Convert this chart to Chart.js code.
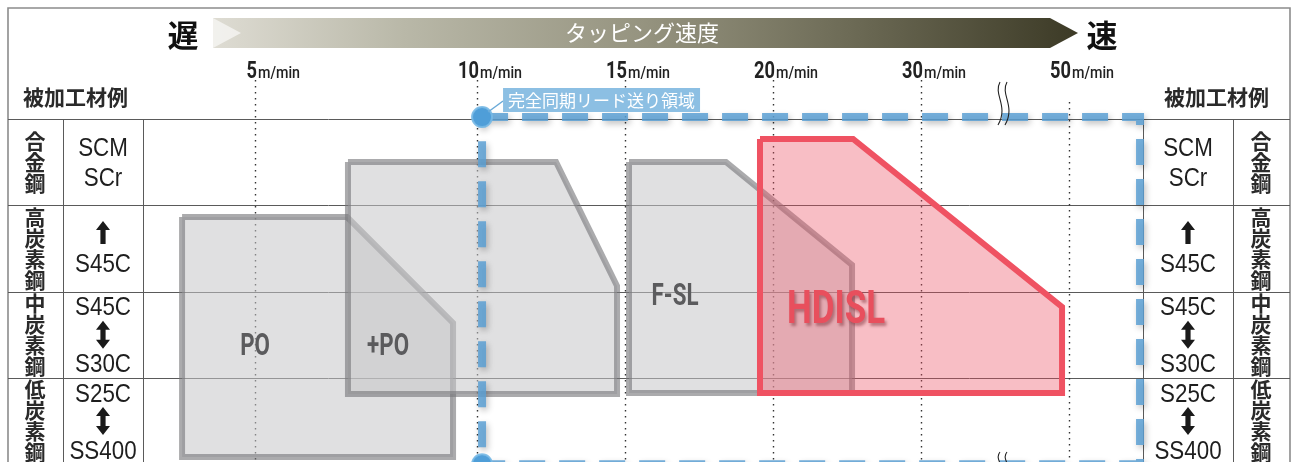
<!DOCTYPE html>
<html>
<head>
<meta charset="utf-8">
<script src="https://cdn.jsdelivr.net/npm/chart.js@4.4.1/dist/chart.umd.min.js"></script>
<style>
  html, body { margin: 0; padding: 0; background: #fff; }
  #wrap { width: 1293px; height: 462px; position: relative; }
</style>
</head>
<body>
<div id="wrap"><canvas id="chart"></canvas></div>
<script>
// ══════════════════════════════════════════
// DATA
// ══════════════════════════════════════════
// speed axis (non linear, break between 30 and 50)
const speedTicks = ["5", "10", "15", "20", "30", "50"];
const speedTickPos = [0, 1.5, 2.5, 3.5, 4.5, 5.5];

// material rows, top to bottom (y units: row i spans 4-i .. 3-i)
const materialGroups = ["合金鋼", "高炭素鋼", "中炭素鋼", "低炭素鋼"];
const materialGrades = [
  ["SCM", "SCr"],
  ["↑", "S45C"],
  ["S45C", "↕", "S30C"],
  ["S25C", "↕", "SS400"],
];

// tap application ranges (closed polygons)
const shapeNames = ["PO", "+PO", "F-SL", "HDISL"];
const poX = [-0.493, 0.622, 1.338, 1.338, -0.493, -0.493];
const poY = [2.864, 2.864, 1.636, 0.083, 0.083, 2.864];
const plusPoX = [0.628, 2.034, 2.446, 2.446, 0.628, 0.628];
const plusPoY = [3.502, 3.502, 2.065, 0.813, 0.813, 3.502];
const fslX = [2.527, 3.182, 4.034, 4.034, 2.527, 2.527];
const fslY = [3.502, 3.502, 2.308, 0.825, 0.825, 3.502];
const hdislX = [3.412, 4.041, 5.453, 5.453, 3.412, 3.412];
const hdislY = [3.768, 3.768, 1.822, 0.825, 0.825, 3.768];
const labelX = [0.0, 0.899, 2.838, 3.926];
const labelY = [1.393, 1.393, 1.972, 1.822];

// fully synchronized lead feed area
const syncLabel = "完全同期リード送り領域";
const syncX = [1.534, 5.98, 5.98, 1.534, 1.534];
const syncY = [4.023, 4.023, 0.0, 0.0, 4.023];

const pts = (xs, ys) => xs.map((x, i) => ({ x, y: ys[i] }));

// ══════════════════════════════════════════
// HELPERS
// ══════════════════════════════════════════
const CJK = '"Noto Sans CJK JP", sans-serif';

function narrowText(ctx, text, x, y, font, sx, align, color) {
  ctx.save();
  ctx.font = font;
  ctx.fillStyle = color;
  ctx.textAlign = align || "center";
  ctx.textBaseline = "alphabetic";
  ctx.translate(x, y);
  ctx.scale(sx, 1);
  ctx.fillText(text, 0, 0);
  ctx.restore();
}

function drawArrow(ctx, x, yc, double) {
  const h = double ? 28 : 23;
  const head = 9, hw = 7, sw = 2.6;
  const top = yc - h / 2, bot = yc + h / 2;
  ctx.save();
  ctx.fillStyle = "#1a1a1a";
  ctx.beginPath();
  ctx.moveTo(x, top);
  ctx.lineTo(x + hw, top + head);
  ctx.lineTo(x + sw, top + head);
  if (double) {
    ctx.lineTo(x + sw, bot - head);
    ctx.lineTo(x + hw, bot - head);
    ctx.lineTo(x, bot);
    ctx.lineTo(x - hw, bot - head);
    ctx.lineTo(x - sw, bot - head);
  } else {
    ctx.lineTo(x + sw, bot);
    ctx.lineTo(x - sw, bot);
  }
  ctx.lineTo(x - sw, top + head);
  ctx.lineTo(x - hw, top + head);
  ctx.closePath();
  ctx.fill();
  ctx.restore();
}

function drawBreak(ctx, cx, y0, y1) {
  ctx.save();
  ctx.strokeStyle = "#222";
  ctx.lineWidth = 1.1;
  [0, 7].forEach((dx) => {
    const h = y1 - y0;
    ctx.beginPath();
    ctx.moveTo(cx - 3 + dx, y0);
    ctx.bezierCurveTo(cx - 10 + dx, y0 + h * 0.3, cx + 6 + dx, y0 + h * 0.55, cx - 5 + dx, y1);
    ctx.stroke();
  });
  ctx.restore();
}

// ══════════════════════════════════════════
// PLUGIN : table, header, labels
// ══════════════════════════════════════════
const tablePlugin = {
  id: "tapTable",
  beforeDatasetsDraw(chart) {
    const { ctx, chartArea } = chart;
    const xs = chart.scales.x, ys = chart.scales.y;
    const H = chart.height;
    const L = 8, R = 1290;
    const headY = ys.getPixelForValue(4);

    // header arrow band
    ctx.save();
    const g = ctx.createLinearGradient(213, 0, 1078, 0);
    g.addColorStop(0, "#dedcd3");
    g.addColorStop(0.22, "#b9b8a8");
    g.addColorStop(0.5, "#95937f");
    g.addColorStop(0.74, "#6c6a55");
    g.addColorStop(1, "#3c3a26");
    ctx.fillStyle = g;
    ctx.beginPath();
    ctx.moveTo(213, 18);
    ctx.lineTo(1050, 18);
    ctx.lineTo(1078, 33);
    ctx.lineTo(1050, 48);
    ctx.lineTo(213, 48);
    ctx.closePath();
    ctx.fill();
    ctx.fillStyle = "rgba(255,255,255,0.6)";
    ctx.beginPath();
    ctx.moveTo(213, 18);
    ctx.lineTo(241, 33);
    ctx.lineTo(213, 48);
    ctx.closePath();
    ctx.fill();
    ctx.font = "22px " + CJK;
    ctx.fillStyle = "#fff";
    ctx.textAlign = "center";
    ctx.textBaseline = "middle";
    ctx.fillText("タッピング速度", 642, 33);
    ctx.fillStyle = "#111";
    ctx.font = "bold 31px " + CJK;
    ctx.fillText("遅", 183, 35);
    ctx.fillText("速", 1102, 35);
    ctx.restore();

    // frame
    ctx.save();
    ctx.strokeStyle = "#8c8c8c";
    ctx.lineWidth = 1.6;
    ctx.beginPath();
    ctx.moveTo(L, H + 2);
    ctx.lineTo(L, 8);
    ctx.lineTo(R, 8);
    ctx.lineTo(R, H + 2);
    ctx.stroke();

    // row lines
    ctx.strokeStyle = "#5a5a5a";
    ctx.lineWidth = 1;
    [4, 3, 2, 1].forEach((v) => {
      const y = Math.round(ys.getPixelForValue(v)) + 0.5;
      ctx.beginPath();
      ctx.moveTo(L, y);
      ctx.lineTo(R, y);
      ctx.stroke();
    });
    // column lines
    [63, chartArea.left, chartArea.right, 1233].forEach((x) => {
      const xx = Math.round(x) + 0.5;
      ctx.beginPath();
      ctx.moveTo(xx, headY);
      ctx.lineTo(xx, H);
      ctx.stroke();
    });

    // dotted speed lines
    ctx.strokeStyle = "#333";
    ctx.lineWidth = 1.4;
    ctx.setLineDash([1.6, 4.4]);
    speedTickPos.forEach((p, i) => {
      const x = Math.round(xs.getPixelForValue(p)) + 0.5;
      ctx.beginPath();
      ctx.moveTo(x, i === speedTickPos.length - 1 ? 102 : 80);
      ctx.lineTo(x, H);
      ctx.stroke();
    });
    ctx.restore();
  },

  beforeDatasetDraw(chart, args) {
    if (args.index === 4) {
      chart.ctx.save();
      chart.ctx.shadowColor = "rgba(0,0,0,0.28)";
      chart.ctx.shadowBlur = 6;
      chart.ctx.shadowOffsetX = 2;
      chart.ctx.shadowOffsetY = 3;
    }
  },
  afterDatasetDraw(chart, args) {
    if (args.index === 4) chart.ctx.restore();
  },

  afterDatasetsDraw(chart) {
    const { ctx } = chart;
    const xs = chart.scales.x, ys = chart.scales.y;

    // speed tick labels
    speedTickPos.forEach((p, i) => {
      const x = xs.getPixelForValue(p);
      narrowText(ctx, speedTicks[i], x + 2, 78, "bold 24px Roboto", 0.76, "right", "#222");
      narrowText(ctx, "m/min", x + 3, 78, "500 17px Roboto", 0.84, "left", "#222");
    });

    // break marks
    drawBreak(ctx, 1003, 82, 125);
    drawBreak(ctx, 1003, 452, 480);

    // sync area label
    const cx = xs.getPixelForValue(syncX[0]);
    const cy = ys.getPixelForValue(syncY[0]);
    ctx.save();
    ctx.strokeStyle = "#6aaad8";
    ctx.lineWidth = 1.5;
    ctx.beginPath();
    ctx.moveTo(cx + 6, cy - 5);
    ctx.lineTo(cx + 21, cy - 16);
    ctx.stroke();
    ctx.fillStyle = "#8cbfe3";
    ctx.fillRect(cx + 21, 88, 197, 24);
    ctx.fillStyle = "#fff";
    ctx.font = "17px " + CJK;
    ctx.textAlign = "center";
    ctx.textBaseline = "middle";
    ctx.fillText(syncLabel, cx + 119.5, 100.5);
    ctx.restore();

    // shape labels
    shapeNames.forEach((name, i) => {
      const x = xs.getPixelForValue(labelX[i]);
      const y = ys.getPixelForValue(labelY[i]);
      if (name === "HDISL") {
        ctx.save();
        ctx.shadowColor = "rgba(110,30,40,0.45)";
        ctx.shadowBlur = 3;
        ctx.shadowOffsetX = 2;
        ctx.shadowOffsetY = 3;
        narrowText(ctx, name, x, y + 16, "bold 46px Roboto", 0.76, "center", "#e84f5d");
        ctx.restore();
      } else {
        narrowText(ctx, name, x, y + 11, "bold 31px Roboto", 0.72, "center", "#5b5b5d");
      }
    });

    // material texts, both sides
    ctx.save();
    ctx.font = "bold 21px " + CJK;
    ctx.fillStyle = "#2a2a2a";
    ctx.textAlign = "center";
    ctx.textBaseline = "middle";
    ctx.fillText("被加工材例", 75.5, 97);
    ctx.fillText("被加工材例", 1216.5, 97);
    materialGroups.forEach((grp, r) => {
      const yc = ys.getPixelForValue(3.5 - r);
      const chars = Array.from(grp);
      chars.forEach((ch, k) => {
        const y = yc + (k - (chars.length - 1) / 2) * 21;
        ctx.fillText(ch, 35, y);
        ctx.fillText(ch, 1261, y);
      });
    });
    ctx.restore();

    materialGrades.forEach((items, r) => {
      const yc = ys.getPixelForValue(3.5 - r);
      const offs = items.length === 2 ? [-16, 14] : [-29, 0, 28];
      items.forEach((t, k) => {
        const y = yc + offs[k];
        [103, 1188].forEach((x) => {
          if (t === "↑") drawArrow(ctx, x, y, false);
          else if (t === "↕") drawArrow(ctx, x, y, true);
          else narrowText(ctx, t, x, y + 9.5, '26px "Liberation Sans"', 0.86, "center", "#1e1e1e");
        });
      });
    });
  },
};

// ══════════════════════════════════════════
// CHART
// ══════════════════════════════════════════
const grayFill = "rgba(198,198,200,0.55)";
const grayLine = "rgba(120,120,122,0.62)";
const shapeBase = {
  showLine: true,
  fill: "shape",
  borderWidth: 6,
  borderJoinStyle: "miter",
  pointRadius: 0,
  tension: 0,
};

new Chart(document.getElementById("chart"), {
  type: "line",
  data: {
    datasets: [
      { ...shapeBase, label: "HDISL", data: pts(hdislX, hdislY), backgroundColor: "rgba(236,80,98,0.37)", borderColor: "#ef5262", order: 1 },
      { ...shapeBase, label: "F-SL", data: pts(fslX, fslY), backgroundColor: grayFill, borderColor: grayLine, order: 3 },
      { ...shapeBase, label: "+PO", data: pts(plusPoX, plusPoY), backgroundColor: grayFill, borderColor: grayLine, order: 4 },
      { ...shapeBase, label: "PO", data: pts(poX, poY), backgroundColor: grayFill, borderColor: grayLine, order: 5 },
      {
        label: syncLabel,
        data: pts(syncX, syncY),
        showLine: true,
        fill: false,
        borderColor: "rgba(92,160,212,0.85)",
        borderWidth: 8,
        borderDash: [26, 14],
        borderCapStyle: "butt",
        pointRadius: 0,
        clip: false,
        order: 2,
      },
      {
        label: "corner",
        data: [
          { x: syncX[0], y: syncY[0] },
          { x: syncX[3], y: syncY[3] },
        ],
        showLine: false,
        pointRadius: 10,
        pointBackgroundColor: "#4f9ed8",
        pointBorderColor: "rgba(120,185,230,0.9)",
        pointBorderWidth: 2,
        clip: false,
        order: 0,
      },
    ],
  },
  options: {
    responsive: true,
    maintainAspectRatio: false,
    animation: false,
    layout: { autoPadding: false, padding: { left: 143, right: 150, top: 119, bottom: 0 } },
    scales: {
      x: { type: "linear", min: -0.757, max: 6.0, display: false },
      y: { type: "linear", min: 0.025, max: 4, display: false },
    },
    plugins: { legend: { display: false }, tooltip: { enabled: false } },
  },
  plugins: [tablePlugin],
});
</script>
</body>
</html>
